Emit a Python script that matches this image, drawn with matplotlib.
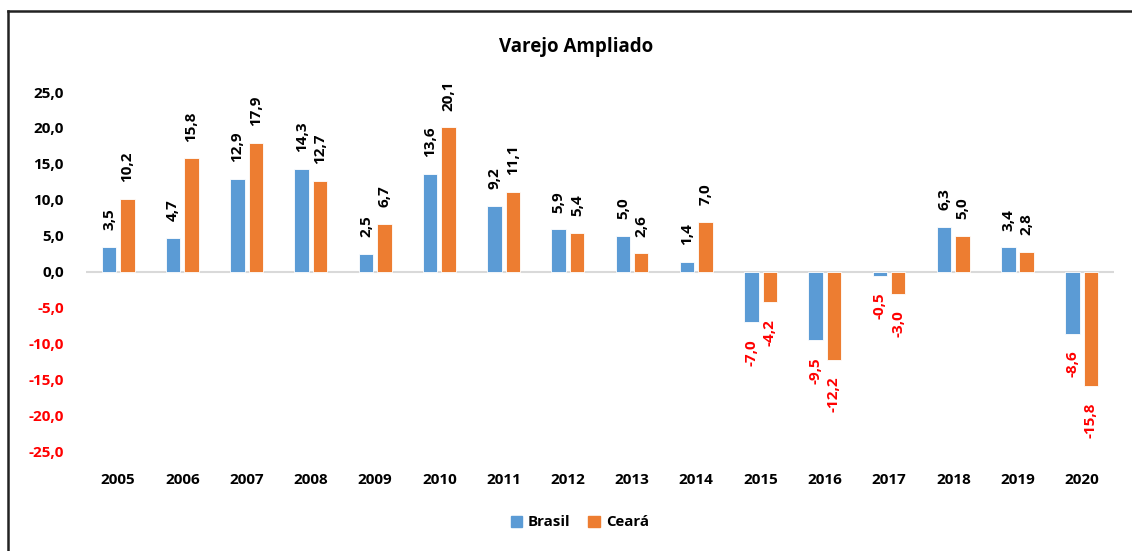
import numpy as np
import matplotlib.pyplot as plt
from matplotlib.lines import Line2D
from matplotlib.patches import Patch

plt.rcParams['font.family'] = ['Open Sans', 'DejaVu Sans']

anos = [str(a) for a in range(2005, 2021)]
brasil = [3.5, 4.7, 12.9, 14.3, 2.5, 13.6, 9.2, 5.9, 5.0, 1.4, -7.0, -9.5, -0.5, 6.3, 3.4, -8.6]
ceara = [10.2, 15.8, 17.9, 12.7, 6.7, 20.1, 11.1, 5.4, 2.6, 7.0, -4.2, -12.2, -3.0, 5.0, 2.8, -15.8]
yticks = [25, 20, 15, 10, 5, 0, -5, -10, -15, -20, -25]

azul = '#5B9BD5'
laranja = '#ED7D31'


def fmt(v):
    return f"{v:.1f}".replace('.', ',')


fig = plt.figure(figsize=(11.32, 5.51), dpi=100)
ax = fig.add_axes([0.076, 0.180, 0.908, 0.653])

x = np.arange(len(anos))
w = 0.225
off = 0.143
for serie, cor, d in [(brasil, azul, -off), (ceara, laranja, off)]:
    ax.bar(x + d, serie, w, color=cor, edgecolor='white', linewidth=0.6, zorder=2)
    for xi, v in zip(x + d, serie):
        if v >= 0:
            ax.annotate(fmt(v), (xi, v), xytext=(0, 12), textcoords='offset points',
                        rotation=90, ha='center', va='bottom', fontsize=11,
                        fontweight='bold', color='black')
        else:
            ax.annotate(fmt(v), (xi, v), xytext=(0, -12), textcoords='offset points',
                        rotation=90, ha='center', va='top', fontsize=11,
                        fontweight='bold', color='red')

ax.axhline(0, color='#D9D9D9', linewidth=1.5, zorder=1)
ax.set_xlim(-0.5, len(anos) - 0.5)
ax.set_ylim(-25, 25)
ax.set_xticks(x)
ax.set_xticklabels(anos, fontsize=11, fontweight='bold')
ax.set_yticks(yticks)
ax.set_yticklabels([fmt(t) for t in yticks], fontsize=11, fontweight='bold')
for t, lab in zip(yticks, ax.get_yticklabels()):
    lab.set_color('red' if t < 0 else 'black')
ax.tick_params(axis='both', length=0)
ax.tick_params(axis='x', pad=15)
ax.tick_params(axis='y', pad=16)
for s in ax.spines.values():
    s.set_visible(False)

fig.text(0.509, 0.914, 'Varejo Ampliado', ha='center', va='center',
         fontsize=13.5, fontweight='bold')

handles = [Patch(color=azul, label='Brasil'), Patch(color=laranja, label='Ceará')]
leg = fig.legend(handles=handles, loc='center', bbox_to_anchor=(0.512, 0.052), ncol=2,
                 frameon=False, handlelength=0.75, handleheight=0.75, handletextpad=0.4,
                 columnspacing=1.2, prop={'weight': 'bold', 'size': 10.8})

# moldura do gráfico (topo e esquerda)
fig.add_artist(Line2D([0.0071, 1.0], [0.980, 0.980], transform=fig.transFigure,
                      color='#222222', linewidth=1.8))
fig.add_artist(Line2D([0.0071, 0.0071], [0.0, 0.980], transform=fig.transFigure,
                      color='#222222', linewidth=1.8))

fig.savefig('out.png', dpi=100)
